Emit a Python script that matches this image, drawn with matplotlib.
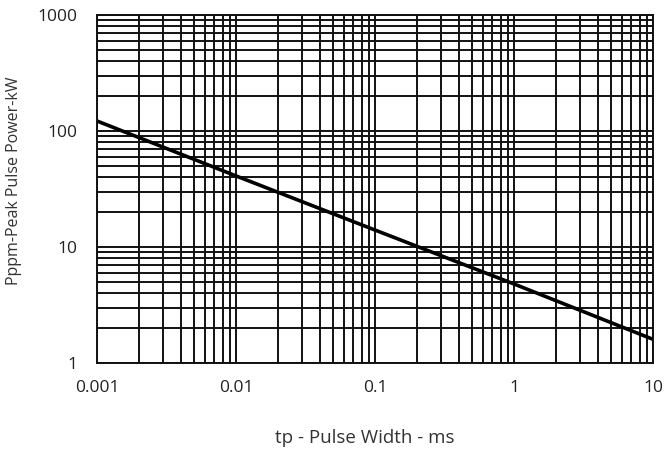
import matplotlib
matplotlib.use("Agg")
import matplotlib.pyplot as plt
from matplotlib.ticker import LogLocator, FixedLocator, FixedFormatter, NullFormatter

# pulse width (ms) vs peak pulse power (kW)
pulse_width = [0.001, 0.01, 0.1, 1, 10]
peak_power = [122, 41, 14, 4.8, 1.6]

x_ticks = [0.001, 0.01, 0.1, 1, 10]
x_labels = ["0.001", "0.01", "0.1", "1", "10"]
y_ticks = [1, 10, 100, 1000]
y_labels = ["1", "10", "100", "1000"]

plt.rcParams["font.family"] = ["Open Sans", "DejaVu Sans"]

fig = plt.figure(figsize=(6.64, 4.5), dpi=100)
ax = fig.add_axes([97 / 664, 1 - 363 / 450, (653 - 97) / 664, (363 - 15) / 450])

ax.plot(pulse_width, peak_power, color="black", linewidth=2.6, solid_capstyle="butt")

ax.set_xscale("log")
ax.set_yscale("log")
ax.set_xlim(0.001, 10)
ax.set_ylim(1, 1000)

ax.xaxis.set_major_locator(FixedLocator(x_ticks))
ax.xaxis.set_major_formatter(FixedFormatter(x_labels))
ax.yaxis.set_major_locator(FixedLocator(y_ticks))
ax.yaxis.set_major_formatter(FixedFormatter(y_labels))
ax.xaxis.set_minor_locator(LogLocator(base=10, subs=range(2, 10), numticks=20))
ax.yaxis.set_minor_locator(LogLocator(base=10, subs=range(2, 10), numticks=20))
ax.xaxis.set_minor_formatter(NullFormatter())
ax.yaxis.set_minor_formatter(NullFormatter())

ax.grid(True, which="both", color="#111111", linewidth=1.4)
ax.tick_params(which="both", length=0)
ax.tick_params(axis="x", pad=12, labelsize=12.5, labelcolor="#222222")
ax.tick_params(axis="y", pad=14, labelsize=12.5, labelcolor="#222222")
for s in ax.spines.values():
    s.set_color("#111111")
    s.set_linewidth(1.4)

ax.set_xlabel("tp - Pulse Width - ms", fontsize=13.5, color="#333333", va="center")
ax.xaxis.set_label_coords(0.482, -0.216)
ax.set_ylabel("Pppm-Peak Pulse Power-kW", fontsize=11.5, color="#333333", va="center")
ax.yaxis.set_label_coords(-0.149, 0.523)

fig.savefig("out.png", dpi=100)
